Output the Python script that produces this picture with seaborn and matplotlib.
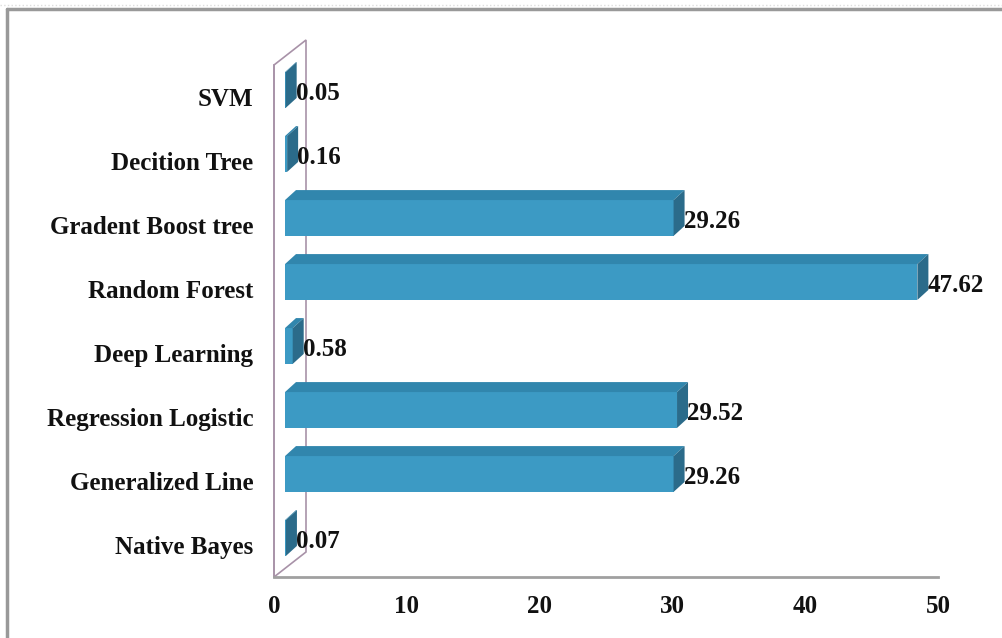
import pandas as pd
import seaborn as sns
import matplotlib.pyplot as plt
from matplotlib.patches import Polygon
from matplotlib.lines import Line2D

# data (top to bottom as in the chart)
models = ["SVM", "Decition Tree", "Gradent Boost tree", "Random Forest",
          "Deep Learning", "Regression Logistic", "Generalized Line", "Native Bayes"]
scores = [0.05, 0.16, 29.26, 47.62, 0.58, 29.52, 29.26, 0.07]
x_ticks = [0, 10, 20, 30, 40, 50]

df = pd.DataFrame({"model": models, "score": scores})

sns.set_style("white")
plt.rcParams["font.family"] = ["Liberation Serif", "DejaVu Serif"]

W, H = 1003, 638
fig = plt.figure(figsize=(W / 100, H / 100), dpi=100)
ax = fig.add_axes([274 / W, 61 / H, 664 / W, 512 / H])

front = "#3c9ac4"
top_c = "#3186ad"
side_c = "#2b6b8a"
wall_c = "#a892a8"
fs = 18

sns.barplot(data=df, y="model", x="score", order=models, orient="h",
            color=front, saturation=1, width=0.56, ax=ax, zorder=3)
ax.set_xlim(0, 50)
ax.set_ylim(len(models) - 0.5, -0.5)
ax.set_xticks(x_ticks)
ax.set_xlabel("")
ax.set_ylabel("")

for s in ["top", "right"]:
    ax.spines[s].set_visible(False)
ax.spines["left"].set_color(wall_c)
ax.spines["left"].set_linewidth(1.2)
ax.spines["bottom"].set_color("#a0a0a0")
ax.spines["bottom"].set_linewidth(2)
ax.tick_params(axis="both", length=0)
ax.tick_params(axis="x", pad=13)
ax.tick_params(axis="y", pad=15)
for lab in ax.get_xticklabels() + ax.get_yticklabels():
    lab.set_fontweight("bold")
    lab.set_fontsize(fs)
    lab.set_color("#111111")

to_px = ax.transData.transform
to_data = ax.transData.inverted().transform

# 3D offsets in pixels
sx, sy = 11, 7      # shift of bar front face (bars sit inside the depth)
dx, dy = 11, 10     # bar depth
wx, wy = 32, 25     # wall depth

# left wall
(x0, yb), = to_px([(0, len(models) - 0.5)])
(_, yt), = to_px([(0, -0.5)])
wall = [(x0, yb), (x0 + wx, yb + wy), (x0 + wx, yt + wy), (x0, yt)]
ax.add_patch(Polygon(to_data(wall), closed=True, facecolor="white",
                     edgecolor=wall_c, lw=1.2, zorder=1, clip_on=False))

for p, val in zip(ax.patches[:len(models)], scores):
    (px0, py0), (px1, py1) = to_px([(p.get_x(), p.get_y()),
                                    (p.get_x() + p.get_width(), p.get_y() + p.get_height())])
    bx0, bx1 = px0 + sx, px1 + sx
    ylo, yhi = min(py0, py1) + sy, max(py0, py1) + sy
    (nx0, ny0), (nx1, ny1) = to_data([(bx0, ylo), (bx1, yhi)])
    p.set_x(nx0)
    p.set_width(nx1 - nx0)
    p.set_y(min(ny0, ny1))
    p.set_height(abs(ny1 - ny0))
    p.set_edgecolor("none")
    topf = [(bx0, yhi), (bx1, yhi), (bx1 + dx, yhi + dy), (bx0 + dx, yhi + dy)]
    sidef = [(bx1, ylo), (bx1 + dx, ylo + dy), (bx1 + dx, yhi + dy), (bx1, yhi)]
    ax.add_patch(Polygon(to_data(topf), closed=True, facecolor=top_c,
                         edgecolor="none", zorder=3, clip_on=False))
    ax.add_patch(Polygon(to_data(sidef), closed=True, facecolor=side_c,
                         edgecolor="none", zorder=3, clip_on=False))
    (tx, ty), = to_data([(bx1 + dx - 1, (ylo + yhi) / 2 - 3)])
    ax.text(tx, ty, f"{val:.2f}", ha="left", va="center", fontsize=fs,
            fontweight="bold", color="#111111", zorder=4, clip_on=False)

# outer frame of the picture
fig.add_artist(Line2D([7 / W, 7 / W], [0, 1 - 9 / H], color="#999999", lw=2.5))
fig.add_artist(Line2D([7 / W, 1], [1 - 9 / H, 1 - 9 / H], color="#999999", lw=2.5))
fig.add_artist(Line2D([0, 1], [1 - 5 / H, 1 - 5 / H], color="#dddddd", lw=1, ls=":"))

fig.savefig("out.png", dpi=100)
